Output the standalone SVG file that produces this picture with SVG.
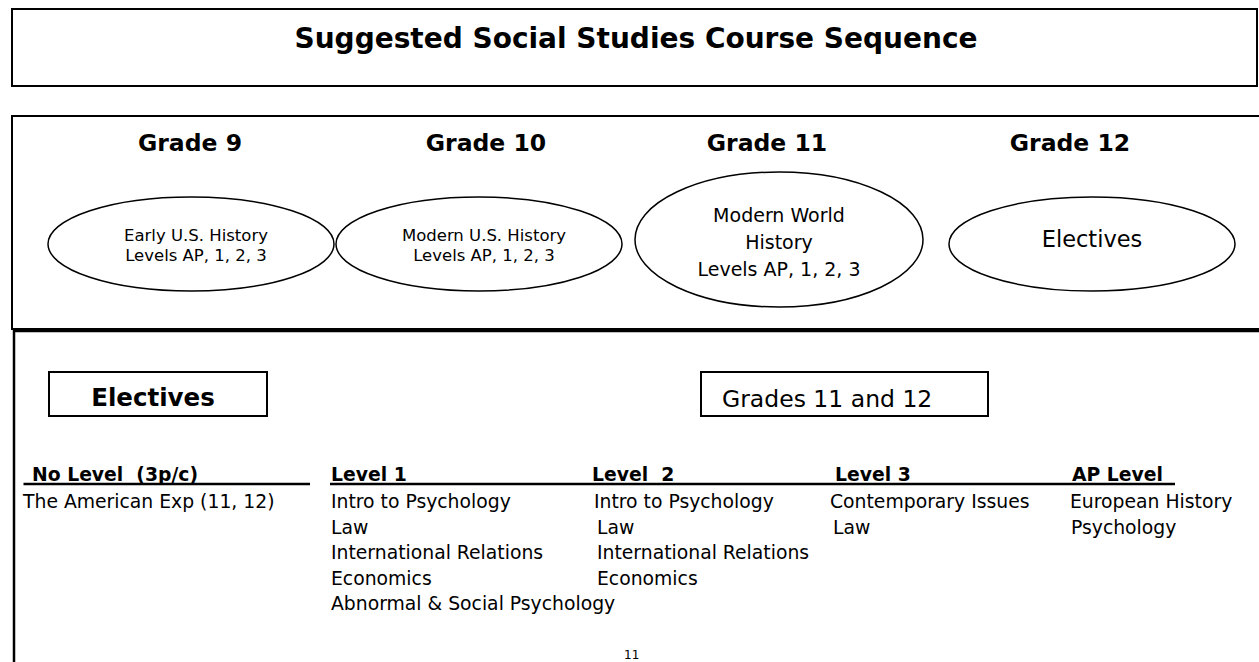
<svg xmlns="http://www.w3.org/2000/svg" width="1259" height="662" viewBox="0 0 1259 662">
<style>
text{font-family:"DejaVu Sans","Liberation Sans",sans-serif;fill:#000}
.b{font-weight:bold}
.frame{fill:none;stroke:#000;stroke-width:2}
.ell{fill:#fff;stroke:#000;stroke-width:1.5}
.mid{text-anchor:middle}
.grade{font-size:23.5px;font-weight:bold;text-anchor:middle}
.sm{font-size:16.5px;text-anchor:middle}
.lg{font-size:19px;text-anchor:middle}
.hd{font-size:18.8px;font-weight:bold}
.it{font-size:18.8px}
.ul{stroke:#000;stroke-width:2.5}
</style>
<rect width="1259" height="662" fill="#fff"/>
<g id="title">
<rect class="frame" x="12" y="9" width="1245" height="77"/>
<text class="b mid" x="636" y="48" font-size="28">Suggested Social Studies Course Sequence</text>
</g>
<g id="grades-panel">
<rect class="frame" x="12" y="116" width="1260" height="213"/>
<text class="grade" x="190" y="151">Grade 9</text>
<text class="grade" x="486" y="151">Grade 10</text>
<text class="grade" x="767" y="151">Grade 11</text>
<text class="grade" x="1070" y="151">Grade 12</text>
</g>
<g id="grade9">
<ellipse class="ell" cx="191" cy="244" rx="143" ry="47"/>
<text class="sm" x="196" y="240.5">Early U.S. History</text>
<text class="sm" x="196" y="260.5">Levels AP, 1, 2, 3</text>
</g>
<g id="grade10">
<ellipse class="ell" cx="479" cy="244" rx="143" ry="47"/>
<text class="sm" x="484" y="240.5">Modern U.S. History</text>
<text class="sm" x="484" y="260.5">Levels AP, 1, 2, 3</text>
</g>
<g id="grade11">
<ellipse class="ell" cx="779" cy="239.5" rx="144" ry="67.5"/>
<text class="lg" x="779" y="222">Modern World</text>
<text class="lg" x="779" y="249">History</text>
<text class="lg" x="779" y="276">Levels AP, 1, 2, 3</text>
</g>
<g id="grade12">
<ellipse class="ell" cx="1092" cy="244" rx="143" ry="47"/>
<text class="mid" x="1092" y="246.5" font-size="22.5">Electives</text>
</g>
<g id="electives-panel">
<path d="M14 662 V331 H1259" fill="none" stroke="#000" stroke-width="2.5"/>
</g>
<g id="electives-box">
<rect class="frame" x="49" y="372" width="218" height="44"/>
<text class="b mid" x="153" y="406" font-size="24.5">Electives</text>
</g>
<g id="grades-11-12">
<rect class="frame" x="701" y="372" width="287" height="44"/>
<text x="722" y="407" font-size="23.5">Grades 11 and 12</text>
</g>
<g id="connectors">
<line class="ul" x1="23.5" y1="484" x2="310" y2="484"/>
<line class="ul" x1="330" y1="484" x2="1175" y2="484"/>
</g>
<g id="no-level">
<text class="hd" x="32" y="481" xml:space="preserve">No Level  (3p/c)</text>
<text class="it" x="23" y="508">The American Exp (11, 12)</text>
</g>
<g id="level1">
<text class="hd" x="331" y="481">Level 1</text>
<text class="it" x="331" y="508">Intro to Psychology</text>
<text class="it" x="331" y="533.5">Law</text>
<text class="it" x="331" y="559">International Relations</text>
<text class="it" x="331" y="584.5">Economics</text>
<text class="it" x="331" y="610">Abnormal &amp; Social Psychology</text>
</g>
<g id="level2">
<text class="hd" x="592" y="481" xml:space="preserve">Level  2</text>
<text class="it" x="594" y="508">Intro to Psychology</text>
<text class="it" x="597" y="533.5">Law</text>
<text class="it" x="597" y="559">International Relations</text>
<text class="it" x="597" y="584.5">Economics</text>
</g>
<g id="level3">
<text class="hd" x="835" y="481">Level 3</text>
<text class="it" x="830" y="508">Contemporary Issues</text>
<text class="it" x="833" y="533.5">Law</text>
</g>
<g id="ap-level">
<text class="hd" x="1072" y="481">AP Level</text>
<text class="it" x="1070" y="508">European History</text>
<text class="it" x="1071" y="533.5">Psychology</text>
</g>
<g id="page-number">
<text x="624" y="659" font-size="12">11</text>
</g>
</svg>
